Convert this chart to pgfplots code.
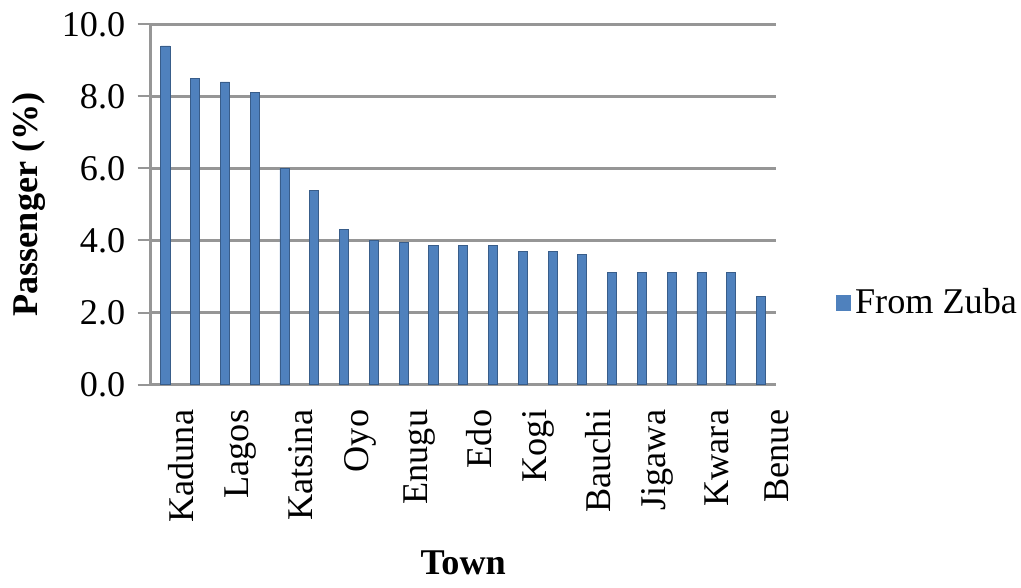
\documentclass[border=0pt]{standalone}
\usepackage{fontspec}
\setmainfont{Liberation Serif}
\usepackage{pgfplots}
\pgfplotsset{compat=1.18}
\definecolor{barblue}{RGB}{79,129,189}
\definecolor{bardark}{RGB}{56,93,138}
\definecolor{gridgray}{RGB}{150,150,150}
\begin{document}
\fontsize{18.3}{22}\selectfont
\begin{tikzpicture}
\begin{axis}[
  scale only axis,
  width=316pt, height=182pt,
  xmin=-0.5, xmax=20.5, ymin=0, ymax=10,
  axis x line*=bottom, axis y line*=left,
  axis line style={gridgray, line width=1.2pt},
  ytick={0,2,4,6,8,10},
  ymajorgrids, major grid style={gridgray, line width=1.3pt},
  yticklabel style={/pgf/number format/fixed, /pgf/number format/precision=1, /pgf/number format/fixed zerofill, /pgf/number format/assume math mode=true},
  tick align=outside,
  major tick length=6.5pt,
  y tick style={gridgray, line width=1pt},
  x tick style={draw=none},
  xtick={0,2,...,20},
  xticklabels={Kaduna,Lagos,Katsina,Oyo,Enugu,Edo,Kogi,Bauchi,Jigawa,Kwara,Benue},
  xticklabel style={rotate=90, anchor=east, yshift=-8pt},
  tick label style={font=\fontsize{18.3}{22}\selectfont},
  xlabel={\textbf{Town}}, ylabel={\textbf{Passenger (\%)}},
  label style={font=\fontsize{18.3}{22}\selectfont},
  ylabel style={yshift=-4pt},
  xlabel style={yshift=-2pt},
  legend style={draw=none, at={(1.095,0.225)}, anchor=west, fill=none, inner sep=0pt,
    font=\fontsize{18.3}{22}\selectfont},
  legend image code/.code={\fill[barblue] (0cm,-0.12cm) rectangle (0.26cm,0.14cm);},
]
\addplot[ybar, bar width=4.6pt, fill=barblue, draw=bardark] coordinates {
(0,9.4) (1,8.5) (2,8.4) (3,8.1) (4,6.0) (5,5.4) (6,4.3) (7,4.0) (8,3.95) (9,3.85)
(10,3.85) (11,3.85) (12,3.7) (13,3.7) (14,3.6) (15,3.1) (16,3.1) (17,3.1) (18,3.1) (19,3.1) (20,2.45)
};
\addlegendentry{From Zuba}
\end{axis}
\end{tikzpicture}
\end{document}
